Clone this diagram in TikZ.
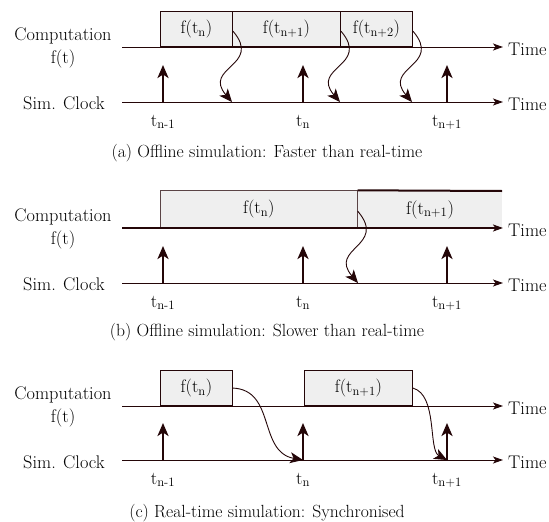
\documentclass[tikz,border=0pt]{standalone}
\usetikzlibrary{arrows.meta}
\definecolor{ink}{RGB}{36,6,8}
\definecolor{boxfill}{RGB}{239,239,239}
\begin{document}
\begin{tikzpicture}[x=1pt,y=-1pt,
  lbl/.style={font=\fontsize{18.3}{21}\selectfont, inner sep=0pt},
  captext/.style={font=\fontsize{17.6}{20}\selectfont, inner sep=0pt},
  axis/.style={draw=ink, line width=1pt, -{Stealth[length=10pt,width=7pt,inset=2.5pt]}},
  tickarr/.style={draw=ink, line width=2.5pt, -{Stealth[length=13pt,width=11pt,inset=3.5pt]}},
  wavy/.style={draw=ink, line width=0.9pt, -{Stealth[length=13pt,width=11pt,inset=3.5pt]}},
  compbox/.style={draw=ink, fill=boxfill, line width=0.9pt, inner sep=0pt, anchor=south west,
    font=\fontsize{18}{21}\selectfont},
]
\useasboundingbox (0,0) rectangle (549,522);

% ---------- (a) faster than real-time ----------
\begin{scope}
  \node[lbl, anchor=base] (a-comp) at (63,40) {Computation};
  \node[lbl, anchor=base] (a-ft) at (63,63) {f(t)};
  \node[lbl, anchor=base] (a-sim) at (64,109) {Sim. Clock};
  \coordinate (a-cs) at (122,47);  \coordinate (a-ce) at (503,47);
  \coordinate (a-ks) at (122,102); \coordinate (a-ke) at (503,102);
  \draw[axis] (a-cs) -- (a-ce);
  \draw[axis] (a-ks) -- (a-ke);
  \node[lbl, anchor=base west] (a-time1) at (508,55) {Time};
  \node[lbl, anchor=base west] (a-time2) at (508,110) {Time};
  \node[compbox, minimum width=72pt, minimum height=35pt] (a-b1) at (160,47) {f(t\textsubscript{n})};
  \node[compbox, minimum width=108pt, minimum height=35pt] (a-b2) at (232,47) {f(t\textsubscript{n+1})};
  \node[compbox, minimum width=72pt, minimum height=35pt] (a-b3) at (340,47) {f(t\textsubscript{n+2})};
  \foreach \x/\s [count=\i] in {163/n-1, 303/n, 447/n+1} {
    \coordinate (a-tb\i) at (\x,102);
    \coordinate (a-tt\i) at (\x,65);
    \draw[tickarr] (a-tb\i) -- (a-tt\i);
    \node[lbl, anchor=base] (a-tl\i) at (\x,126) {t\textsubscript{\s}};
  }
  \coordinate (a-e1) at (232,102);
  \coordinate (a-e2) at (340,102);
  \coordinate (a-e3) at (412,102);
  \draw[wavy] ([yshift=-2pt]a-b1.east) .. controls +(30,35) and +(-30,-35) .. (a-e1);
  \draw[wavy] ([yshift=-2pt]a-b2.east) .. controls +(30,35) and +(-30,-35) .. (a-e2);
  \draw[wavy] ([yshift=-2pt]a-b3.east) .. controls +(30,35) and +(-30,-35) .. (a-e3);
  \node[captext, anchor=base] (a-cap) at (267,157) {(a) Offline simulation: Faster than real-time};
\end{scope}

% ---------- (b) slower than real-time ----------
\begin{scope}[shift={(0,181)}]
  \node[lbl, anchor=base] (b-comp) at (63,40) {Computation};
  \node[lbl, anchor=base] (b-ft) at (63,63) {f(t)};
  \node[lbl, anchor=base] (b-sim) at (64,109) {Sim. Clock};
  \coordinate (b-cs) at (122,47);  \coordinate (b-ce) at (503,47);
  \coordinate (b-ks) at (122,102); \coordinate (b-ke) at (503,102);
  % second computation runs past the end of the axis
  \fill[boxfill] (357,10) rectangle (502,47);
  \node[compbox, draw=ink!75, line width=0.7pt, minimum width=197pt, minimum height=37pt] (b-b1) at (160,47) {f(t\textsubscript{n})};
  \node[lbl] (b-b2) at (430,28.5) {f(t\textsubscript{n+1})};
  \coordinate (b-tl) at (502,10);
  \draw[ink, line width=2pt] (b-b1.north east) -- (b-tl);
  \draw[axis, line width=2pt] (b-cs) -- (b-ce);
  \draw[axis] (b-ks) -- (b-ke);
  \node[lbl, anchor=base west] (b-time1) at (508,55) {Time};
  \node[lbl, anchor=base west] (b-time2) at (508,110) {Time};
  \foreach \x/\s [count=\i] in {163/n-1, 303/n, 447/n+1} {
    \coordinate (b-tb\i) at (\x,102);
    \coordinate (b-tt\i) at (\x,65);
    \draw[tickarr] (b-tb\i) -- (b-tt\i);
    \node[lbl, anchor=base] (b-tl\i) at (\x,126) {t\textsubscript{\s}};
  }
  \coordinate (b-e1) at (358,102);
  \draw[wavy] ([yshift=-2pt]b-b1.east) .. controls +(30,35) and +(-30,-35) .. (b-e1);
  \node[captext, anchor=base] (b-cap) at (267,155) {(b) Offline simulation: Slower than real-time};
\end{scope}

% ---------- (c) synchronised ----------
\begin{scope}[shift={(0,359)}]
  \node[lbl, anchor=base] (c-comp) at (63,40) {Computation};
  \node[lbl, anchor=base] (c-ft) at (63,63) {f(t)};
  \node[lbl, anchor=base] (c-sim) at (64,109) {Sim. Clock};
  \coordinate (c-cs) at (122,47);  \coordinate (c-ce) at (503,47);
  \coordinate (c-ks) at (122,101); \coordinate (c-ke) at (503,101);
  \draw[axis] (c-cs) -- (c-ce);
  \draw[axis] (c-ks) -- (c-ke);
  \node[lbl, anchor=base west] (c-time1) at (508,55) {Time};
  \node[lbl, anchor=base west] (c-time2) at (508,109) {Time};
  \node[compbox, minimum width=72pt, minimum height=35pt] (c-b1) at (160,47) {f(t\textsubscript{n})};
  \node[compbox, minimum width=108pt, minimum height=35pt] (c-b2) at (304,47) {f(t\textsubscript{n+1})};
  \foreach \x/\s [count=\i] in {163/n-1, 303/n, 447/n+1} {
    \coordinate (c-tb\i) at (\x,101);
    \coordinate (c-tt\i) at (\x,64);
    \draw[tickarr] (c-tb\i) -- (c-tt\i);
    \node[lbl, anchor=base] (c-tl\i) at (\x,125) {t\textsubscript{\s}};
  }
  \draw[wavy] (c-b1.east) .. controls +(43,2) and +(-45,-8) .. (c-tb2);
  \draw[wavy] (c-b2.east) .. controls +(25,7) and +(-19,-10) .. (c-tb3);
  \node[captext, anchor=base] (c-cap) at (267,158) {(c) Real-time simulation: Synchronised};
\end{scope}
\end{tikzpicture}
\end{document}
